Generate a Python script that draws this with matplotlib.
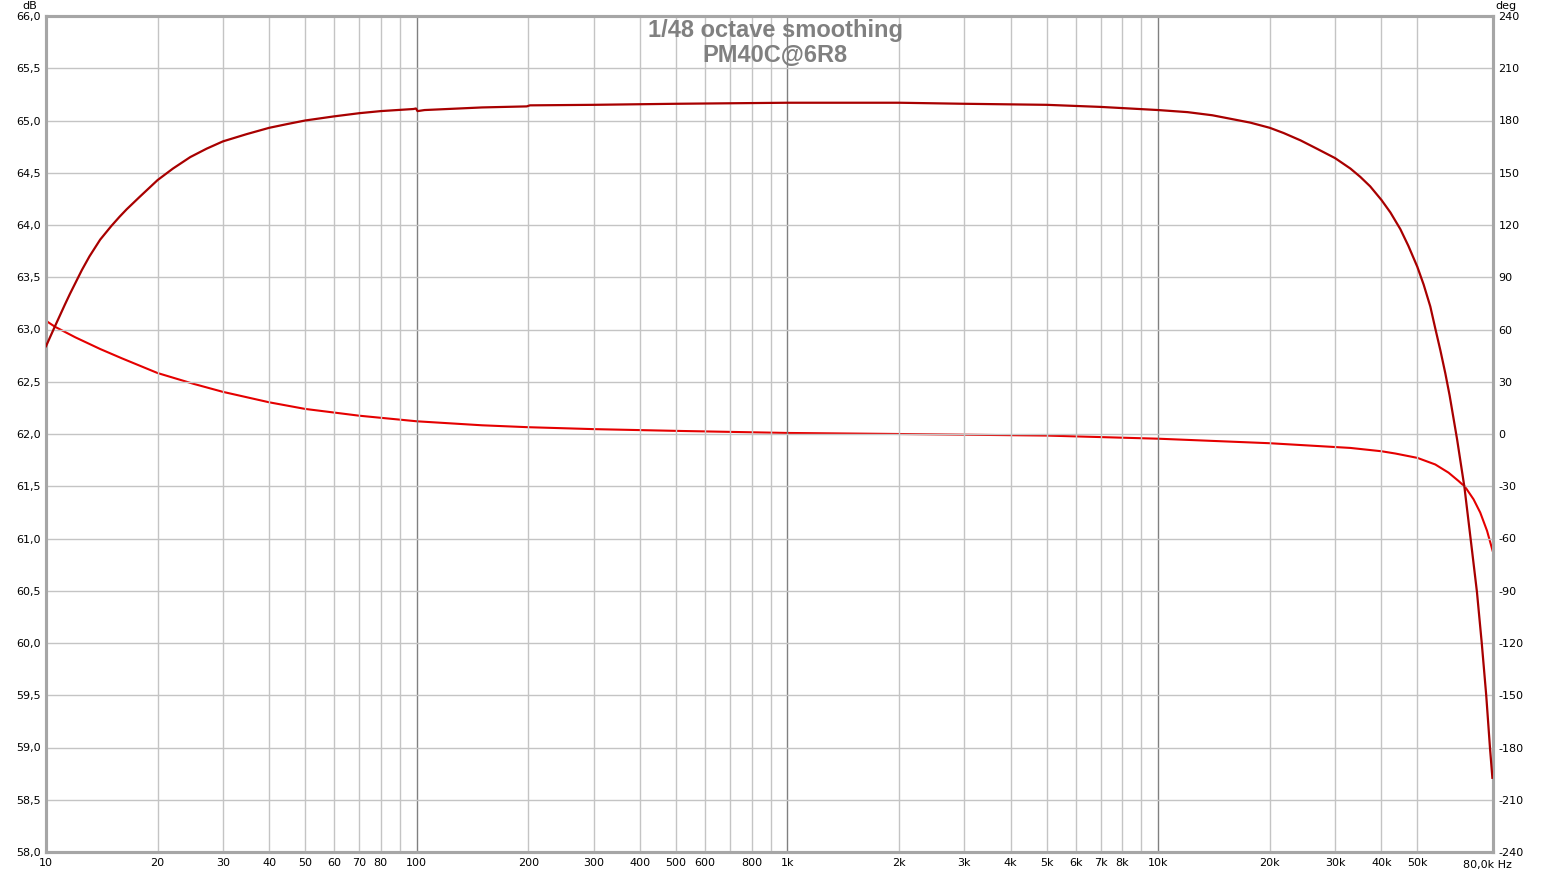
import matplotlib
matplotlib.use("Agg")
import matplotlib.pyplot as plt

# magnitude trace (dB)
mag_freq = [10, 10.57, 11.25, 11.6, 12.1, 12.5, 13.1, 14.0, 15.0, 15.8, 16.5, 17.9, 20, 22.0,
            24.5, 27.1, 30, 34.8, 40, 44.6, 50, 60, 70, 80,
            98, 99.5, 100.5, 105, 150, 198, 202, 300, 500, 1000, 2000, 3000, 5000, 7000,
            10000, 12000, 14000, 17700, 20000, 21800, 24200, 26800, 30000, 33000, 35100,
            37300, 40000, 42300, 45000, 47300, 50000, 52000, 54200, 55900, 57700, 59500,
            61100, 64000, 67000, 70200, 72400, 74600, 76700, 78500, 79700]
mag_db = [62.84, 63.03, 63.24, 63.34, 63.47, 63.57, 63.70, 63.86, 63.99, 64.08, 64.15, 64.27,
          64.43, 64.54, 64.65, 64.73, 64.80, 64.87, 64.93, 64.965, 65.00,
          65.04, 65.07, 65.09, 65.11, 65.115, 65.09, 65.10, 65.125, 65.135, 65.145, 65.15,
          65.16, 65.17, 65.17, 65.16, 65.15, 65.13, 65.10, 65.08, 65.05, 64.98, 64.93, 64.88,
          64.81, 64.73, 64.64, 64.54, 64.46, 64.37, 64.24, 64.12, 63.96, 63.80, 63.60, 63.43,
          63.22, 63.01, 62.80, 62.58, 62.37, 61.95, 61.49, 60.89, 60.49, 60.0, 59.50, 59.0,
          58.71]

# phase trace (deg)
ph_freq = [10, 10.57, 12, 14, 16, 20, 25, 30, 40, 50, 70, 100, 150, 200, 300, 500, 1000,
           2000, 5000, 10000, 20000, 33000, 40000, 43600, 50000, 55900, 60700, 64600, 67300,
           70900, 73900, 77100, 79800]
ph_deg = [65.0, 61.6, 55.5, 48.8, 43.5, 35.0, 28.8, 24.2, 18.2, 14.4, 10.5, 7.3, 5.0, 3.9,
          2.8, 1.8, 0.6, 0.0, -0.9, -2.7, -5.3, -8.0, -9.9, -11.2, -13.7, -17.5, -22.2,
          -27.0, -30.4, -37.5, -45.1, -55.6, -67.0]

xtick_pos = [10, 20, 30, 40, 50, 60, 70, 80, 100, 200, 300, 400, 500, 600, 800,
             1000, 2000, 3000, 4000, 5000, 6000, 7000, 8000, 10000, 20000, 30000, 40000, 50000]
xtick_lab = ["10", "20", "30", "40", "50", "60", "70", "80", "100", "200", "300", "400",
             "500", "600", "800", "1k", "2k", "3k", "4k", "5k", "6k", "7k", "8k", "10k",
             "20k", "30k", "40k", "50k"]

db_ticks = [58 + 0.5 * i for i in range(17)]
deg_ticks = [-240 + 30 * i for i in range(17)]

plt.rcParams['font.family'] = ['DejaVu Sans']
plt.rcParams['axes.unicode_minus'] = False

fig = plt.figure(figsize=(15.5, 8.74), dpi=100)
ax = fig.add_axes([46 / 1550, 1 - 852 / 874, (1493 - 46) / 1550, (852 - 16) / 874])
ax2 = ax.twinx()

ax.set_xscale('log')
ax.set_xlim(10, 80000)
ax.set_ylim(58, 66)
ax2.set_ylim(-240, 240)

# grid lines
grid_x = []
for dec in [10, 100, 1000]:
    for m in range(1, 10):
        grid_x.append(dec * m)
grid_x += [10000, 20000, 30000, 40000, 50000]
for gx in grid_x:
    if gx in (100, 1000, 10000):
        ax.axvline(gx, color='#808080', lw=1, zorder=1)
    elif gx > 10:
        ax.axvline(gx, color='#c4c4c4', lw=1, zorder=1)
for gy in db_ticks[1:-1]:
    ax.axhline(gy, color='#c4c4c4', lw=1, zorder=1)

ax2.plot(ph_freq, ph_deg, color='#e50000', lw=1.5, zorder=3)
ax.plot(mag_freq, mag_db, color='#a80000', lw=1.6, zorder=4)
ax.set_zorder(ax2.get_zorder() + 1)
ax.patch.set_visible(False)

ax.set_xticks(xtick_pos)
ax.set_xticklabels(xtick_lab)
ax.xaxis.set_minor_locator(matplotlib.ticker.NullLocator())
ax.set_yticks(db_ticks)
ax.set_yticklabels([("%.1f" % v).replace('.', ',') for v in db_ticks])
ax2.set_yticks(deg_ticks)
ax2.set_yticklabels([str(v) for v in deg_ticks])

ax.tick_params(axis='both', length=0, labelsize=8, colors='#000000', pad=4)
ax2.tick_params(axis='y', length=0, labelsize=8, pad=4)

for a in (ax, ax2):
    for s in a.spines.values():
        s.set_color('#a6a6a6')
        s.set_linewidth(2.2)

ax.annotate('80,0k Hz', xy=(1, 0), xycoords='axes fraction', xytext=(13.7, -9.4),
            textcoords='offset points', ha='right', va='center', fontsize=8)
ax.annotate('dB', xy=(0, 1), xycoords='axes fraction', xytext=(-12, 7),
            textcoords='offset points', ha='center', va='center', fontsize=8)
ax2.annotate('deg', xy=(1, 1), xycoords='axes fraction', xytext=(9, 7),
             textcoords='offset points', ha='center', va='center', fontsize=8)

fig.text(775 / 1550, 1 - 31 / 874, '1/48 octave smoothing', ha='center', va='center',
         fontsize=17, fontweight='bold', color='#808080', family='Liberation Sans')
fig.text(775 / 1550, 1 - 55 / 874, 'PM40C@6R8', ha='center', va='center',
         fontsize=17, fontweight='bold', color='#808080', family='Liberation Sans')

fig.savefig('out.png', dpi=100, facecolor='white')
